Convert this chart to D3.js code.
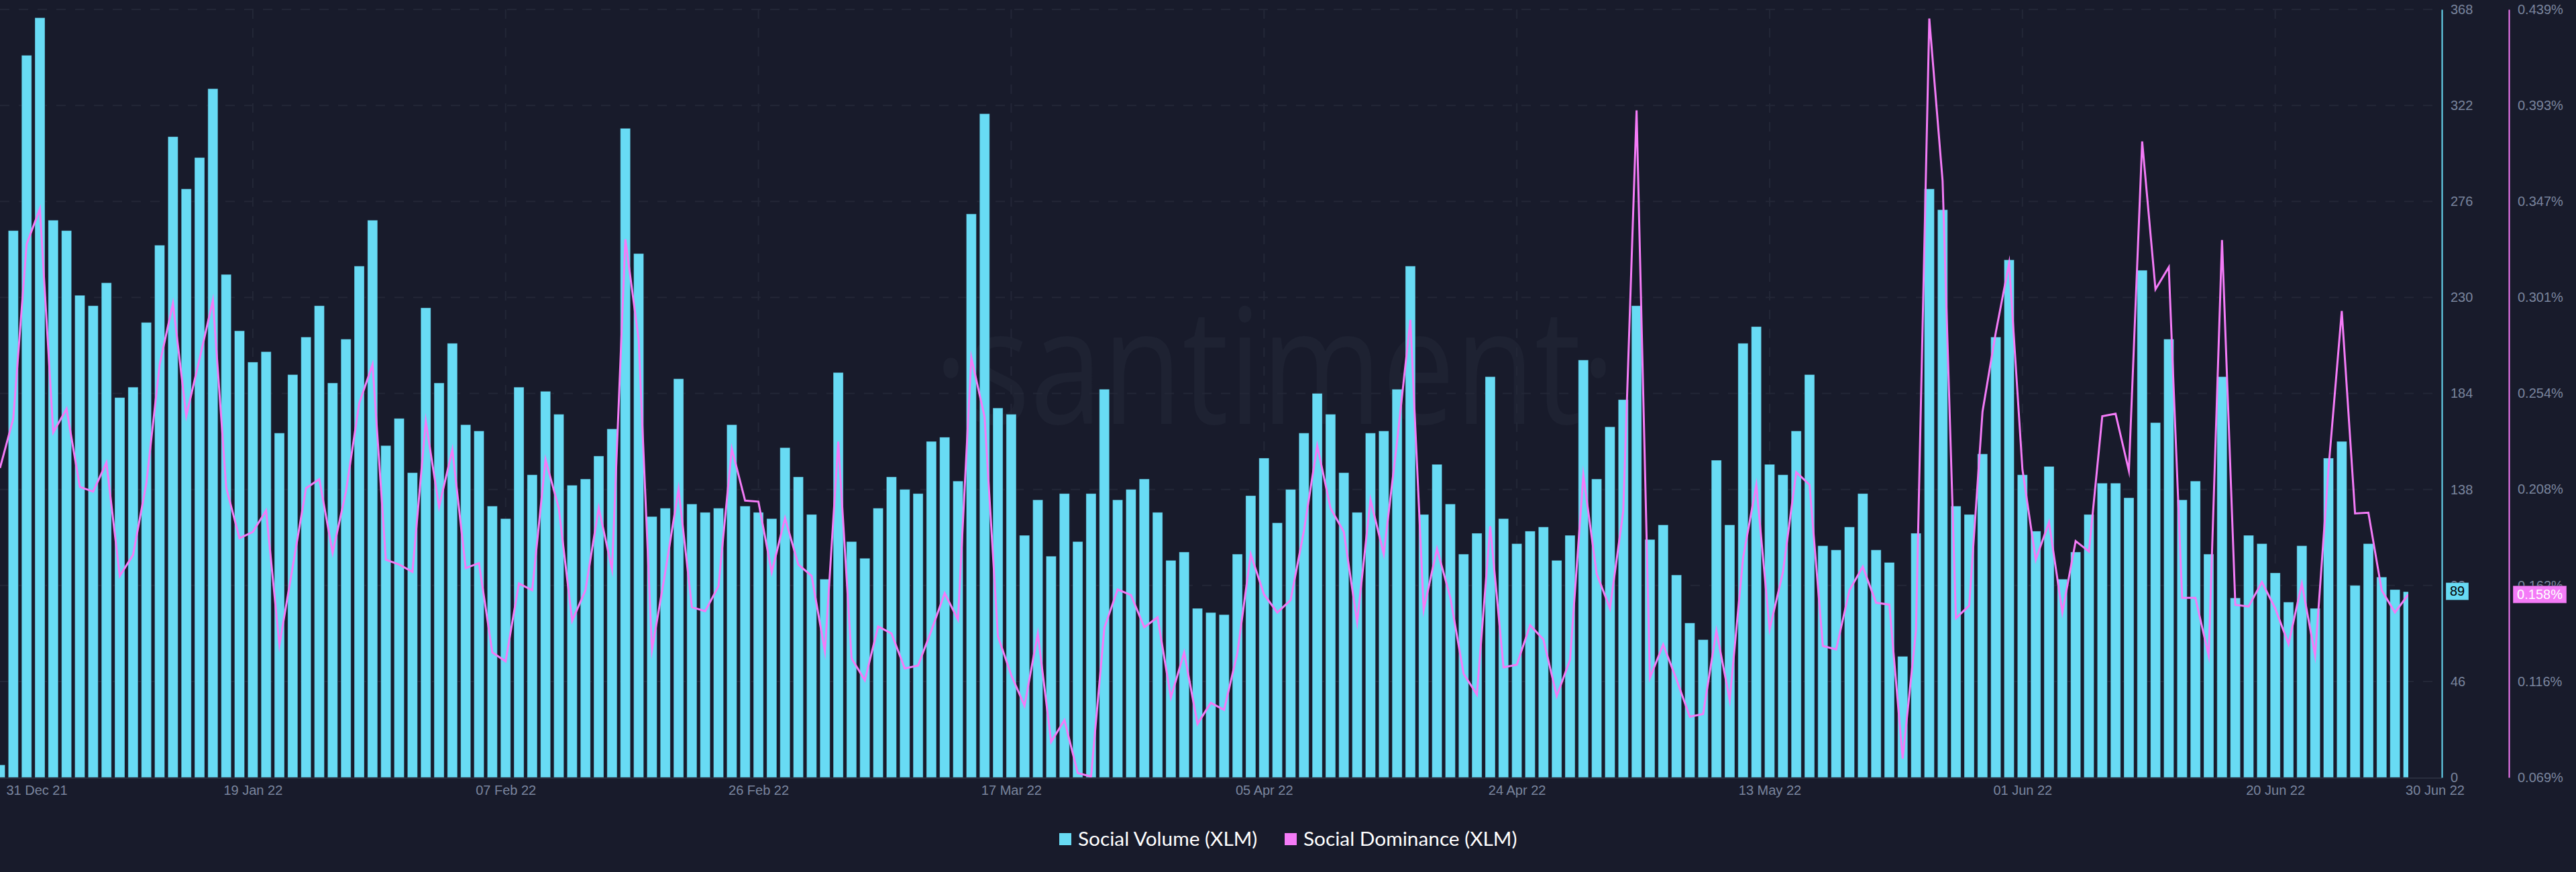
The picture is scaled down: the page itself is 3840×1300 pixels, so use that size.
<!DOCTYPE html>
<html>
<head>
<meta charset="utf-8">
<title>Social Volume and Social Dominance (XLM)</title>
<script src="https://cdnjs.cloudflare.com/ajax/libs/d3/7.8.5/d3.min.js"></script>
<style>
  html, body { margin: 0; padding: 0; background: #181b2b; }
  svg { display: block; }
  .tick-label { font-family: "Liberation Sans", Arial, sans-serif; font-size: 20px; fill: #7a859e; }
  .legend-label { font-family: "Lato", sans-serif; font-size: 29.8px; fill: #ffffff; }
  .grid line { stroke: #232737; stroke-width: 2; stroke-dasharray: 14 14; }
</style>
</head>
<body>
<div id="vis"></div>
<script>
const FRAME_WIDTH = 3840;
const FRAME_HEIGHT = 1300;
const PLOT = {left: 0, right: 3590, top: 14, bottom: 1159};
const GRID_RIGHT = 3627;
const VOLUME_AXIS_X = 3640;
const DOMINANCE_AXIS_X = 3740;
const BAR_WIDTH = 15;

const CYAN = "#68dbf4";
const PINK = "#f47bf7";
const BG = "#181b2b";

// daily values, 31 Dec 21 to 30 Jun 22
const VOLUME = [
  6, 262, 346, 364, 267, 262, 231, 226, 237, 182, 187, 218, 255, 307, 282, 297, 330, 241, 214, 199,
  204, 165, 193, 211, 226, 189, 210, 245, 267, 159, 172, 146, 225, 189, 208, 169, 166, 130, 124, 187,
  145, 185, 174, 140, 143, 154, 167, 311, 251, 125, 129, 191, 131, 127, 129, 169, 130, 127, 124, 158,
  144, 126, 95, 194, 113, 105, 129, 144, 138, 136, 161, 163, 142, 270, 318, 177, 174, 116, 133, 106,
  136, 113, 136, 186, 133, 138, 143, 127, 104, 108, 81, 79, 78, 107, 135, 153, 122, 138, 165, 184,
  174, 146, 127, 165, 166, 186, 245, 126, 150, 131, 107, 117, 192, 124, 112, 118, 120, 104, 116, 200,
  143, 168, 181, 226, 114, 121, 97, 74, 66, 152, 121, 208, 216, 150, 145, 166, 193, 111, 109, 120,
  136, 109, 103, 58, 117, 282, 272, 130, 126, 155, 211, 248, 145, 118, 149, 95, 108, 126, 141, 141,
  134, 243, 170, 210, 133, 142, 107, 192, 86, 116, 112, 98, 84, 111, 81, 153, 161, 92, 112, 96,
  90, 89
];
const DOMINANCE = [
  0.2185, 0.2423, 0.3262, 0.3433, 0.2356, 0.2470, 0.2094, 0.2071, 0.2211, 0.1665,
  0.1766, 0.2111, 0.2684, 0.2978, 0.2436, 0.2711, 0.2992, 0.2091, 0.1847, 0.1877,
  0.1980, 0.1332, 0.1710, 0.2087, 0.2131, 0.1776, 0.2071, 0.2497, 0.2684, 0.1743,
  0.1720, 0.1685, 0.2410, 0.1997, 0.2274, 0.1703, 0.1727, 0.1297, 0.1254, 0.1629,
  0.1596, 0.2225, 0.1991, 0.1449, 0.1596, 0.1993, 0.1696, 0.3286, 0.2804, 0.1308,
  0.1683, 0.2084, 0.1515, 0.1495, 0.1616, 0.2278, 0.2028, 0.2023, 0.1683, 0.1944,
  0.1720, 0.1665, 0.1301, 0.2312, 0.1268, 0.1163, 0.1422, 0.1388, 0.1220, 0.1234,
  0.1402, 0.1582, 0.1455, 0.2717, 0.2430, 0.1375, 0.1188, 0.1040, 0.1388, 0.0866,
  0.0971, 0.0716, 0.0699, 0.1415, 0.1600, 0.1573, 0.1418, 0.1466, 0.1080, 0.1297,
  0.0953, 0.1054, 0.1020, 0.1295, 0.1770, 0.1576, 0.1489, 0.1549, 0.1883, 0.2292,
  0.1991, 0.1877, 0.1442, 0.2033, 0.1770, 0.2312, 0.2898, 0.1502, 0.1796, 0.1562,
  0.1194, 0.1094, 0.1904, 0.1225, 0.1238, 0.1428, 0.1359, 0.1087, 0.1261, 0.2151,
  0.1676, 0.1509, 0.1977, 0.3907, 0.1174, 0.1335, 0.1167, 0.0987, 0.1000, 0.1402,
  0.1067, 0.1750, 0.2104, 0.1408, 0.1683, 0.2165, 0.2104, 0.1328, 0.1311, 0.1596,
  0.1710, 0.1536, 0.1527, 0.0786, 0.1402, 0.4349, 0.3567, 0.1462, 0.1522, 0.2456,
  0.2838, 0.3172, 0.2178, 0.1743, 0.1924, 0.1489, 0.1833, 0.1783, 0.2434, 0.2446,
  0.2171, 0.3757, 0.3045, 0.3152, 0.1560, 0.1560, 0.1281, 0.3283, 0.1526, 0.1518,
  0.1636, 0.1509, 0.1337, 0.1629, 0.1281, 0.2178, 0.2941, 0.1966, 0.1970, 0.1596,
  0.1489, 0.1576
];

const VOLUME_TICKS = [0, 46, 92, 138, 184, 230, 276, 322, 368];
const DOMINANCE_TICKS = [0.0695, 0.1157, 0.1620, 0.2082, 0.2544, 0.3006, 0.3468, 0.3931, 0.4393];
const DOMINANCE_TICK_LABELS = ["0.069%", "0.116%", "0.162%", "0.208%", "0.254%", "0.301%", "0.347%", "0.393%", "0.439%"];
const DATE_TICKS = ["2021-12-31", "2022-01-19", "2022-02-07", "2022-02-26", "2022-03-17", "2022-04-05", "2022-04-24", "2022-05-13", "2022-06-01", "2022-06-20", "2022-06-30"];
const DATE_TICK_LABELS = ["31 Dec 21", "19 Jan 22", "07 Feb 22", "26 Feb 22", "17 Mar 22", "05 Apr 22", "24 Apr 22", "13 May 22", "01 Jun 22", "20 Jun 22", "30 Jun 22"];
const LEGEND_LABELS = ["Social Volume (XLM)", "Social Dominance (XLM)"];

const START = new Date(Date.UTC(2021, 11, 31));
const END = new Date(Date.UTC(2022, 5, 30));
const DAYS = d3.utcDay.range(START, d3.utcDay.offset(END, 1));
const TICK_DATES = DATE_TICKS.map((d) => new Date(d + "T00:00:00Z"));

const X_SCALE = d3.scaleUtc().domain([START, END]).range([PLOT.left, PLOT.right]);
const Y_VOLUME = d3.scaleLinear().domain([0, 368]).range([PLOT.bottom, PLOT.top]);
const Y_DOMINANCE = d3.scaleLinear().domain([0.0695, 0.4393]).range([PLOT.bottom, PLOT.top]);

const FRAME = d3.select("#vis")
  .append("svg")
    .attr("width", FRAME_WIDTH)
    .attr("height", FRAME_HEIGHT);

FRAME.append("rect")
    .attr("width", FRAME_WIDTH)
    .attr("height", FRAME_HEIGHT)
    .attr("fill", BG);

// bars and line stop at the last day, half of its bar gets cut
FRAME.append("clipPath")
    .attr("id", "plot-clip")
  .append("rect")
    .attr("x", PLOT.left)
    .attr("y", 0)
    .attr("width", PLOT.right - PLOT.left)
    .attr("height", PLOT.bottom);

// watermark sits under everything
FRAME.append("text")
    .attr("x", 1392)
    .attr("y", 632)
    .attr("textLength", 1016)
    .attr("lengthAdjust", "spacingAndGlyphs")
    .attr("font-family", "Open Sans")
    .attr("font-weight", 400)
    .attr("font-size", 240)
    .attr("fill", "#1e2232")
    .text("\u00b7santiment\u00b7");

// grid
FRAME.append("g")
    .attr("class", "grid")
  .selectAll("line")
  .data(VOLUME_TICKS.slice(1))
  .enter()
  .append("line")
    .attr("x1", PLOT.left)
    .attr("x2", GRID_RIGHT)
    .attr("y1", (d) => Y_VOLUME(d))
    .attr("y2", (d) => Y_VOLUME(d));

FRAME.append("g")
    .attr("class", "grid")
  .selectAll("line")
  .data(TICK_DATES.slice(1, -1))
  .enter()
  .append("line")
    .attr("x1", (d) => X_SCALE(d))
    .attr("x2", (d) => X_SCALE(d))
    .attr("y1", PLOT.top)
    .attr("y2", PLOT.bottom);

// social volume bars
FRAME.append("g")
    .attr("clip-path", "url(#plot-clip)")
  .selectAll("rect")
  .data(VOLUME)
  .enter()
  .append("rect")
    .attr("x", (d, i) => X_SCALE(DAYS[i]) - BAR_WIDTH / 2)
    .attr("y", (d) => Y_VOLUME(d))
    .attr("width", BAR_WIDTH)
    .attr("height", (d) => PLOT.bottom - Y_VOLUME(d))
    .attr("fill", CYAN)
    .attr("stroke", BG)
    .attr("stroke-opacity", 0.35)
    .attr("stroke-width", 1);

// social dominance line
const LINE = d3.line()
  .x((d, i) => X_SCALE(DAYS[i]))
  .y((d) => Y_DOMINANCE(d));

FRAME.append("path")
    .attr("clip-path", "url(#plot-clip)")
    .attr("d", LINE(DOMINANCE))
    .attr("fill", "none")
    .attr("stroke", PINK)
    .attr("stroke-width", 3)
    .attr("stroke-linejoin", "miter")
    .attr("stroke-miterlimit", 10);

// bottom axis
const X_AXIS = FRAME.append("g")
    .attr("transform", "translate(0," + PLOT.bottom + ")")
    .call(d3.axisBottom(X_SCALE)
      .tickValues(TICK_DATES)
      .tickSize(0)
      .tickPadding(12)
      .tickFormat((d, i) => DATE_TICK_LABELS[i]));
X_AXIS.select(".domain").remove();
X_AXIS.selectAll("text")
    .attr("class", "tick-label")
    .attr("dy", "0.71em")
    .attr("text-anchor", "middle")
    .attr("x", (d, i) => (i === 0 ? 54.5 : i === DATE_TICKS.length - 1 ? 39.5 : 0));
X_AXIS.append("line")
    .attr("x1", PLOT.left)
    .attr("x2", VOLUME_AXIS_X)
    .attr("y1", 1)
    .attr("y2", 1)
    .attr("stroke", "#2a2e3e")
    .attr("stroke-width", 2);

// right axes, one per series
function rightAxis(x, scale, ticks, format, color) {
  const axis = FRAME.append("g")
      .attr("transform", "translate(" + x + ",0)")
      .call(d3.axisRight(scale)
        .tickValues(ticks)
        .tickSize(0)
        .tickPadding(13)
        .tickFormat(format));
  axis.select(".domain")
      .attr("stroke", color)
      .attr("stroke-width", 2);
  axis.selectAll("text").attr("class", "tick-label");
}
rightAxis(VOLUME_AXIS_X, Y_VOLUME, VOLUME_TICKS, (d) => d, CYAN);
rightAxis(DOMINANCE_AXIS_X, Y_DOMINANCE, DOMINANCE_TICKS, (d, i) => DOMINANCE_TICK_LABELS[i], PINK);

// last value badges, they cover the 92 and 0.162% ticks
function badge(x, cy, w, label, fill, textFill) {
  const g = FRAME.append("g");
  g.append("rect")
      .attr("x", x)
      .attr("y", cy - 13)
      .attr("width", w)
      .attr("height", 26)
      .attr("fill", fill)
      .attr("stroke", "#181b2b")
      .attr("stroke-opacity", 0.35);
  g.append("text")
      .attr("x", x + w / 2)
      .attr("y", cy)
      .attr("dy", "0.34em")
      .attr("text-anchor", "middle")
      .attr("class", "tick-label")
      .style("fill", textFill)
      .text(label);
}
badge(3646, Y_VOLUME(VOLUME[VOLUME.length - 1]) - 0.5, 34, VOLUME[VOLUME.length - 1], CYAN, "#000000");
badge(3746, Y_DOMINANCE(DOMINANCE[DOMINANCE.length - 1]), 80, "0.158%", PINK, "#ffffff");

// legend
const LEGEND_X = [1579, 1915];
const LEGEND_COLORS = [CYAN, PINK];
const LEGEND = FRAME.append("g")
  .selectAll("g")
  .data(LEGEND_LABELS)
  .enter()
  .append("g")
    .attr("transform", (d, i) => "translate(" + LEGEND_X[i] + ",1251)");
LEGEND.append("rect")
    .attr("y", -9)
    .attr("width", 18)
    .attr("height", 18)
    .attr("fill", (d, i) => LEGEND_COLORS[i]);
LEGEND.append("text")
    .attr("class", "legend-label")
    .attr("x", 28)
    .attr("dy", "0.35em")
    .text((d) => d);
</script>
</body>
</html>
